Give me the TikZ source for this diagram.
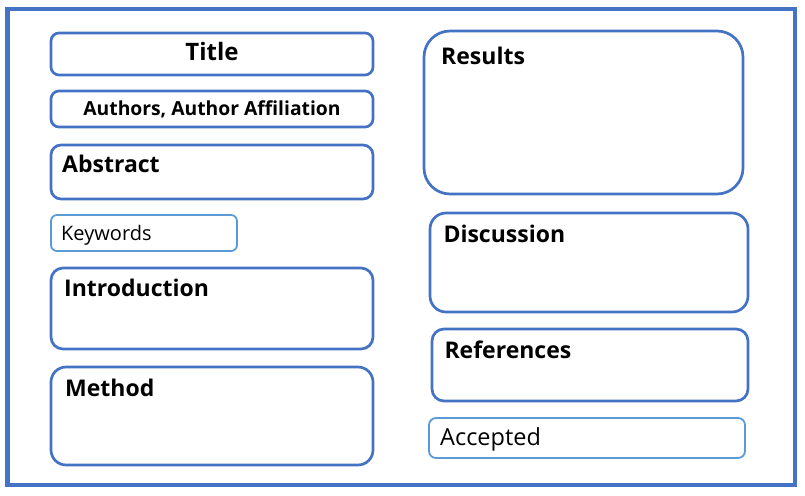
\documentclass[tikz,border=0pt]{standalone}
\usepackage{fontspec}
\setmainfont{Open Sans}
\definecolor{frameblue}{HTML}{4472C4}
\definecolor{lightblue}{HTML}{5B9BD5}
\begin{document}
\begin{tikzpicture}[x=1pt,y=-1pt,
  secbox/.style={draw=frameblue,line width=2.7pt,rounded corners=#1,fill=white,inner sep=0pt,outer sep=0pt},
  tagbox/.style={draw=lightblue,line width=1.8pt,rounded corners=#1,fill=white,inner sep=0pt,outer sep=0pt},
  head/.style={anchor=base west,inner sep=0pt,font=\fontsize{23}{28}\selectfont\bfseries},
  tagtext/.style={anchor=base west,inner sep=0pt,font=\fontsize{#1}{#1}\selectfont}]
\useasboundingbox (0,0) rectangle (805,495);
\draw[frameblue,line width=4.5pt] (7.5,9) rectangle (795,485);
% left column
\node[secbox=8, minimum width=322pt, minimum height=42pt] (title) at (212,54) {};
\node[anchor=base,inner sep=0pt,font=\fontsize{24}{28}\selectfont\bfseries] (titletext) at (212,60) {Title};
\node[secbox=8, minimum width=322pt, minimum height=36pt] (authors) at (212,109) {};
\node[anchor=base,inner sep=0pt,font=\fontsize{19.3}{22}\selectfont\bfseries] (authorstext) at (212,115) {Authors, Author Affiliation};
\node[secbox=10, minimum width=322pt, minimum height=54pt] (abstract) at (212,172) {};
\node[head] (abstracttext) at (62,172.7) {Abstract};
\node[tagbox=6, minimum width=186pt, minimum height=36pt] (keywords) at (144,233) {};
\node[tagtext=20] (keywordstext) at (61,240) {Keywords};
\node[secbox=12, minimum width=322pt, minimum height=81pt] (intro) at (212,308.5) {};
\node[head] (introtext) at (64,296.7) {Introduction};
\node[secbox=15, minimum width=322pt, minimum height=98pt] (method) at (212,416) {};
\node[head] (methodtext) at (65,396.7) {Method};
% right column
\node[secbox=26, minimum width=319pt, minimum height=163pt] (results) at (583.5,112.5) {};
\node[head] (resultstext) at (441,64) {Results};
\node[secbox=16, minimum width=318pt, minimum height=99pt] (discussion) at (589,262.5) {};
\node[head] (discussiontext) at (443.3,242.3) {Discussion};
\node[secbox=12, minimum width=316pt, minimum height=72pt] (references) at (590,365) {};
\node[head] (referencestext) at (444.3,358.3) {References};
\node[tagbox=7, minimum width=316pt, minimum height=40pt] (accepted) at (587,438) {};
\node[tagtext=23.5] (acceptedtext) at (440,445) {Accepted};
\end{tikzpicture}
\end{document}
